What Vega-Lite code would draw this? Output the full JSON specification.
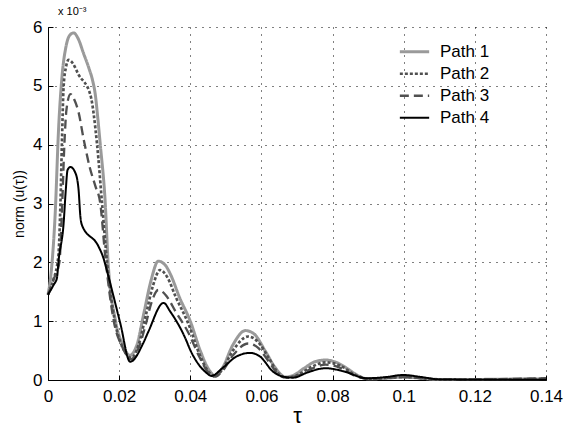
{
  "$schema": "https://vega.github.io/schema/vega-lite/v6.json",
  "autosize": "none",
  "width": 498,
  "height": 353,
  "padding": {"left": 48, "top": 27, "right": 23, "bottom": 53},
  "background": "white",
  "title": {"text": "x 10⁻³", "anchor": "start", "frame": "group", "fontSize": 11, "font": "Liberation Sans", "fontWeight": "normal", "color": "black", "dx": 10, "offset": 1},
  "config": {
    "view": {"stroke": null},
    "axis": {"labelFont": "Liberation Sans", "titleFont": "Liberation Sans", "labelColor": "black", "titleColor": "black", "domainColor": "black", "tickColor": "black", "gridColor": "black", "gridDash": [1, 6], "gridOpacity": 1, "gridWidth": 1, "titleFontWeight": "normal"}
  },
  "data": {"values": [
    {"path": "Path 1", "tau": 0, "u": 1.45},
    {"path": "Path 1", "tau": 0.001, "u": 1.9},
    {"path": "Path 1", "tau": 0.002, "u": 2.8},
    {"path": "Path 1", "tau": 0.003, "u": 4.3},
    {"path": "Path 1", "tau": 0.004, "u": 5.2},
    {"path": "Path 1", "tau": 0.005, "u": 5.65},
    {"path": "Path 1", "tau": 0.006, "u": 5.85},
    {"path": "Path 1", "tau": 0.0072, "u": 5.9},
    {"path": "Path 1", "tau": 0.0085, "u": 5.8},
    {"path": "Path 1", "tau": 0.01, "u": 5.55},
    {"path": "Path 1", "tau": 0.0115, "u": 5.3},
    {"path": "Path 1", "tau": 0.0125, "u": 5.1},
    {"path": "Path 1", "tau": 0.0133, "u": 4.85},
    {"path": "Path 1", "tau": 0.014, "u": 4.45},
    {"path": "Path 1", "tau": 0.0147, "u": 4.0},
    {"path": "Path 1", "tau": 0.0161, "u": 3.0},
    {"path": "Path 1", "tau": 0.0169, "u": 2.0},
    {"path": "Path 1", "tau": 0.019, "u": 1.0},
    {"path": "Path 1", "tau": 0.021, "u": 0.6},
    {"path": "Path 1", "tau": 0.023, "u": 0.42},
    {"path": "Path 1", "tau": 0.025, "u": 0.6},
    {"path": "Path 1", "tau": 0.027, "u": 1.15},
    {"path": "Path 1", "tau": 0.029, "u": 1.7},
    {"path": "Path 1", "tau": 0.031, "u": 2.02},
    {"path": "Path 1", "tau": 0.033, "u": 1.95},
    {"path": "Path 1", "tau": 0.0344, "u": 1.8},
    {"path": "Path 1", "tau": 0.037, "u": 1.4},
    {"path": "Path 1", "tau": 0.04, "u": 1.0},
    {"path": "Path 1", "tau": 0.0428, "u": 0.5},
    {"path": "Path 1", "tau": 0.045, "u": 0.2},
    {"path": "Path 1", "tau": 0.047, "u": 0.07},
    {"path": "Path 1", "tau": 0.049, "u": 0.2},
    {"path": "Path 1", "tau": 0.052, "u": 0.6},
    {"path": "Path 1", "tau": 0.0555, "u": 0.84},
    {"path": "Path 1", "tau": 0.058, "u": 0.78},
    {"path": "Path 1", "tau": 0.061, "u": 0.5},
    {"path": "Path 1", "tau": 0.064, "u": 0.2},
    {"path": "Path 1", "tau": 0.0667, "u": 0.05},
    {"path": "Path 1", "tau": 0.069, "u": 0.08},
    {"path": "Path 1", "tau": 0.072, "u": 0.2},
    {"path": "Path 1", "tau": 0.075, "u": 0.31},
    {"path": "Path 1", "tau": 0.078, "u": 0.34},
    {"path": "Path 1", "tau": 0.081, "u": 0.3},
    {"path": "Path 1", "tau": 0.084, "u": 0.2},
    {"path": "Path 1", "tau": 0.087, "u": 0.08},
    {"path": "Path 1", "tau": 0.09, "u": 0.02},
    {"path": "Path 1", "tau": 0.095, "u": 0.03},
    {"path": "Path 1", "tau": 0.1, "u": 0.05},
    {"path": "Path 1", "tau": 0.105, "u": 0.03},
    {"path": "Path 1", "tau": 0.11, "u": 0.01},
    {"path": "Path 1", "tau": 0.12, "u": 0.01},
    {"path": "Path 1", "tau": 0.13, "u": 0.015},
    {"path": "Path 1", "tau": 0.14, "u": 0.02},

    {"path": "Path 2", "tau": 0, "u": 1.45},
    {"path": "Path 2", "tau": 0.0015, "u": 1.7},
    {"path": "Path 2", "tau": 0.0029, "u": 2.1},
    {"path": "Path 2", "tau": 0.0035, "u": 3.0},
    {"path": "Path 2", "tau": 0.0039, "u": 4.0},
    {"path": "Path 2", "tau": 0.0044, "u": 5.0},
    {"path": "Path 2", "tau": 0.005, "u": 5.3},
    {"path": "Path 2", "tau": 0.0058, "u": 5.44},
    {"path": "Path 2", "tau": 0.007, "u": 5.38},
    {"path": "Path 2", "tau": 0.0085, "u": 5.2},
    {"path": "Path 2", "tau": 0.0119, "u": 4.85},
    {"path": "Path 2", "tau": 0.0138, "u": 4.0},
    {"path": "Path 2", "tau": 0.0152, "u": 3.0},
    {"path": "Path 2", "tau": 0.0166, "u": 2.0},
    {"path": "Path 2", "tau": 0.0188, "u": 1.0},
    {"path": "Path 2", "tau": 0.021, "u": 0.55},
    {"path": "Path 2", "tau": 0.0235, "u": 0.38},
    {"path": "Path 2", "tau": 0.0255, "u": 0.6},
    {"path": "Path 2", "tau": 0.0275, "u": 1.1},
    {"path": "Path 2", "tau": 0.0295, "u": 1.6},
    {"path": "Path 2", "tau": 0.0315, "u": 1.87},
    {"path": "Path 2", "tau": 0.0335, "u": 1.75},
    {"path": "Path 2", "tau": 0.036, "u": 1.4},
    {"path": "Path 2", "tau": 0.0395, "u": 0.95},
    {"path": "Path 2", "tau": 0.0425, "u": 0.45},
    {"path": "Path 2", "tau": 0.045, "u": 0.15},
    {"path": "Path 2", "tau": 0.047, "u": 0.06},
    {"path": "Path 2", "tau": 0.049, "u": 0.18},
    {"path": "Path 2", "tau": 0.052, "u": 0.5},
    {"path": "Path 2", "tau": 0.0563, "u": 0.74},
    {"path": "Path 2", "tau": 0.059, "u": 0.65},
    {"path": "Path 2", "tau": 0.062, "u": 0.38},
    {"path": "Path 2", "tau": 0.065, "u": 0.1},
    {"path": "Path 2", "tau": 0.067, "u": 0.04},
    {"path": "Path 2", "tau": 0.07, "u": 0.08},
    {"path": "Path 2", "tau": 0.074, "u": 0.22},
    {"path": "Path 2", "tau": 0.078, "u": 0.3},
    {"path": "Path 2", "tau": 0.082, "u": 0.25},
    {"path": "Path 2", "tau": 0.086, "u": 0.1},
    {"path": "Path 2", "tau": 0.09, "u": 0.02},
    {"path": "Path 2", "tau": 0.1, "u": 0.05},
    {"path": "Path 2", "tau": 0.11, "u": 0.01},
    {"path": "Path 2", "tau": 0.125, "u": 0.01},
    {"path": "Path 2", "tau": 0.14, "u": 0.02},

    {"path": "Path 3", "tau": 0, "u": 1.45},
    {"path": "Path 3", "tau": 0.0015, "u": 1.7},
    {"path": "Path 3", "tau": 0.0032, "u": 2.0},
    {"path": "Path 3", "tau": 0.004, "u": 3.0},
    {"path": "Path 3", "tau": 0.0046, "u": 4.0},
    {"path": "Path 3", "tau": 0.0052, "u": 4.6},
    {"path": "Path 3", "tau": 0.0063, "u": 4.86},
    {"path": "Path 3", "tau": 0.0075, "u": 4.75},
    {"path": "Path 3", "tau": 0.0086, "u": 4.55},
    {"path": "Path 3", "tau": 0.01, "u": 4.1},
    {"path": "Path 3", "tau": 0.0118, "u": 3.6},
    {"path": "Path 3", "tau": 0.0133, "u": 3.3},
    {"path": "Path 3", "tau": 0.0147, "u": 3.0},
    {"path": "Path 3", "tau": 0.0161, "u": 2.1},
    {"path": "Path 3", "tau": 0.0185, "u": 1.0},
    {"path": "Path 3", "tau": 0.021, "u": 0.55},
    {"path": "Path 3", "tau": 0.0233, "u": 0.35},
    {"path": "Path 3", "tau": 0.0255, "u": 0.55},
    {"path": "Path 3", "tau": 0.0275, "u": 0.95},
    {"path": "Path 3", "tau": 0.029, "u": 1.3},
    {"path": "Path 3", "tau": 0.031, "u": 1.53},
    {"path": "Path 3", "tau": 0.033, "u": 1.45},
    {"path": "Path 3", "tau": 0.036, "u": 1.15},
    {"path": "Path 3", "tau": 0.0395, "u": 0.8},
    {"path": "Path 3", "tau": 0.0425, "u": 0.4},
    {"path": "Path 3", "tau": 0.045, "u": 0.13},
    {"path": "Path 3", "tau": 0.047, "u": 0.06},
    {"path": "Path 3", "tau": 0.049, "u": 0.15},
    {"path": "Path 3", "tau": 0.052, "u": 0.42},
    {"path": "Path 3", "tau": 0.0563, "u": 0.62},
    {"path": "Path 3", "tau": 0.059, "u": 0.55},
    {"path": "Path 3", "tau": 0.062, "u": 0.32},
    {"path": "Path 3", "tau": 0.065, "u": 0.08},
    {"path": "Path 3", "tau": 0.067, "u": 0.04},
    {"path": "Path 3", "tau": 0.07, "u": 0.07},
    {"path": "Path 3", "tau": 0.074, "u": 0.19},
    {"path": "Path 3", "tau": 0.078, "u": 0.26},
    {"path": "Path 3", "tau": 0.082, "u": 0.21},
    {"path": "Path 3", "tau": 0.086, "u": 0.08},
    {"path": "Path 3", "tau": 0.09, "u": 0.02},
    {"path": "Path 3", "tau": 0.1, "u": 0.05},
    {"path": "Path 3", "tau": 0.11, "u": 0.01},
    {"path": "Path 3", "tau": 0.125, "u": 0.015},
    {"path": "Path 3", "tau": 0.14, "u": 0.03},

    {"path": "Path 4", "tau": 0, "u": 1.45},
    {"path": "Path 4", "tau": 0.0016, "u": 1.62},
    {"path": "Path 4", "tau": 0.0025, "u": 1.73},
    {"path": "Path 4", "tau": 0.003, "u": 2.04},
    {"path": "Path 4", "tau": 0.0044, "u": 2.67},
    {"path": "Path 4", "tau": 0.005, "u": 3.23},
    {"path": "Path 4", "tau": 0.0055, "u": 3.57},
    {"path": "Path 4", "tau": 0.0063, "u": 3.62},
    {"path": "Path 4", "tau": 0.0077, "u": 3.52},
    {"path": "Path 4", "tau": 0.0086, "u": 3.23},
    {"path": "Path 4", "tau": 0.0091, "u": 2.78},
    {"path": "Path 4", "tau": 0.0095, "u": 2.64},
    {"path": "Path 4", "tau": 0.0142, "u": 2.27},
    {"path": "Path 4", "tau": 0.0156, "u": 2.07},
    {"path": "Path 4", "tau": 0.0166, "u": 1.85},
    {"path": "Path 4", "tau": 0.0203, "u": 0.97},
    {"path": "Path 4", "tau": 0.0231, "u": 0.31},
    {"path": "Path 4", "tau": 0.0268, "u": 0.63},
    {"path": "Path 4", "tau": 0.0282, "u": 0.82},
    {"path": "Path 4", "tau": 0.0325, "u": 1.31},
    {"path": "Path 4", "tau": 0.0344, "u": 1.16},
    {"path": "Path 4", "tau": 0.0386, "u": 0.71},
    {"path": "Path 4", "tau": 0.04, "u": 0.51},
    {"path": "Path 4", "tau": 0.0442, "u": 0.14},
    {"path": "Path 4", "tau": 0.046, "u": 0.07},
    {"path": "Path 4", "tau": 0.049, "u": 0.2},
    {"path": "Path 4", "tau": 0.053, "u": 0.4},
    {"path": "Path 4", "tau": 0.0568, "u": 0.46},
    {"path": "Path 4", "tau": 0.0596, "u": 0.4},
    {"path": "Path 4", "tau": 0.0633, "u": 0.14},
    {"path": "Path 4", "tau": 0.0667, "u": 0.05},
    {"path": "Path 4", "tau": 0.069, "u": 0.04},
    {"path": "Path 4", "tau": 0.073, "u": 0.13},
    {"path": "Path 4", "tau": 0.078, "u": 0.2},
    {"path": "Path 4", "tau": 0.083, "u": 0.15},
    {"path": "Path 4", "tau": 0.0896, "u": 0.03},
    {"path": "Path 4", "tau": 0.095, "u": 0.05},
    {"path": "Path 4", "tau": 0.0998, "u": 0.085},
    {"path": "Path 4", "tau": 0.105, "u": 0.05},
    {"path": "Path 4", "tau": 0.11, "u": 0.01},
    {"path": "Path 4", "tau": 0.12, "u": 0.005},
    {"path": "Path 4", "tau": 0.14, "u": 0.005}
  ]},
  "mark": {"type": "line", "interpolate": "monotone"},
  "encoding": {
    "x": {"field": "tau", "type": "quantitative", "scale": {"domain": [0, 0.14], "nice": false},
      "axis": {"values": [0, 0.02, 0.04, 0.06, 0.08, 0.1, 0.12, 0.14], "format": "~g", "title": "τ", "titleFontSize": 22, "titlePadding": 1, "labelFontSize": 17, "labelPadding": 13, "tickSize": -5, "labelFlush": false, "labelOverlap": false}},
    "y": {"field": "u", "type": "quantitative", "scale": {"domain": [0, 6], "nice": false},
      "axis": {"values": [0, 1, 2, 3, 4, 5, 6], "title": "norm (u(τ))", "titleFontSize": 14, "titlePadding": 6, "labelFontSize": 17, "labelPadding": 11, "tickSize": -5}},
    "color": {"field": "path", "type": "nominal", "scale": {"domain": ["Path 1", "Path 2", "Path 3", "Path 4"], "range": ["#9a9a9a", "#505050", "#505050", "#000000"]},
      "legend": {"orient": "none", "legendX": 350, "legendY": 14, "title": null, "symbolType": "stroke", "symbolSize": 860, "labelFontSize": 17, "labelFont": "Liberation Sans", "labelColor": "black", "clipHeight": 21.5, "rowPadding": 0, "labelOffset": 9}},
    "strokeDash": {"field": "path", "type": "nominal", "scale": {"domain": ["Path 1", "Path 2", "Path 3", "Path 4"], "range": [[1, 0], [3, 2], [9, 5], [1, 0]]},
      "legend": {"orient": "none", "legendX": 350, "legendY": 14, "title": null, "symbolType": "stroke", "symbolSize": 860, "labelFontSize": 17, "labelFont": "Liberation Sans", "labelColor": "black", "clipHeight": 21.5, "rowPadding": 0, "labelOffset": 9}},
    "strokeWidth": {"field": "path", "type": "nominal", "scale": {"domain": ["Path 1", "Path 2", "Path 3", "Path 4"], "range": [3, 2, 3, 1.6]},
      "legend": {"orient": "none", "legendX": 350, "legendY": 14, "title": null, "symbolType": "stroke", "symbolSize": 860, "labelFontSize": 17, "labelFont": "Liberation Sans", "labelColor": "black", "clipHeight": 21.5, "rowPadding": 0, "labelOffset": 9}}
  }
}
